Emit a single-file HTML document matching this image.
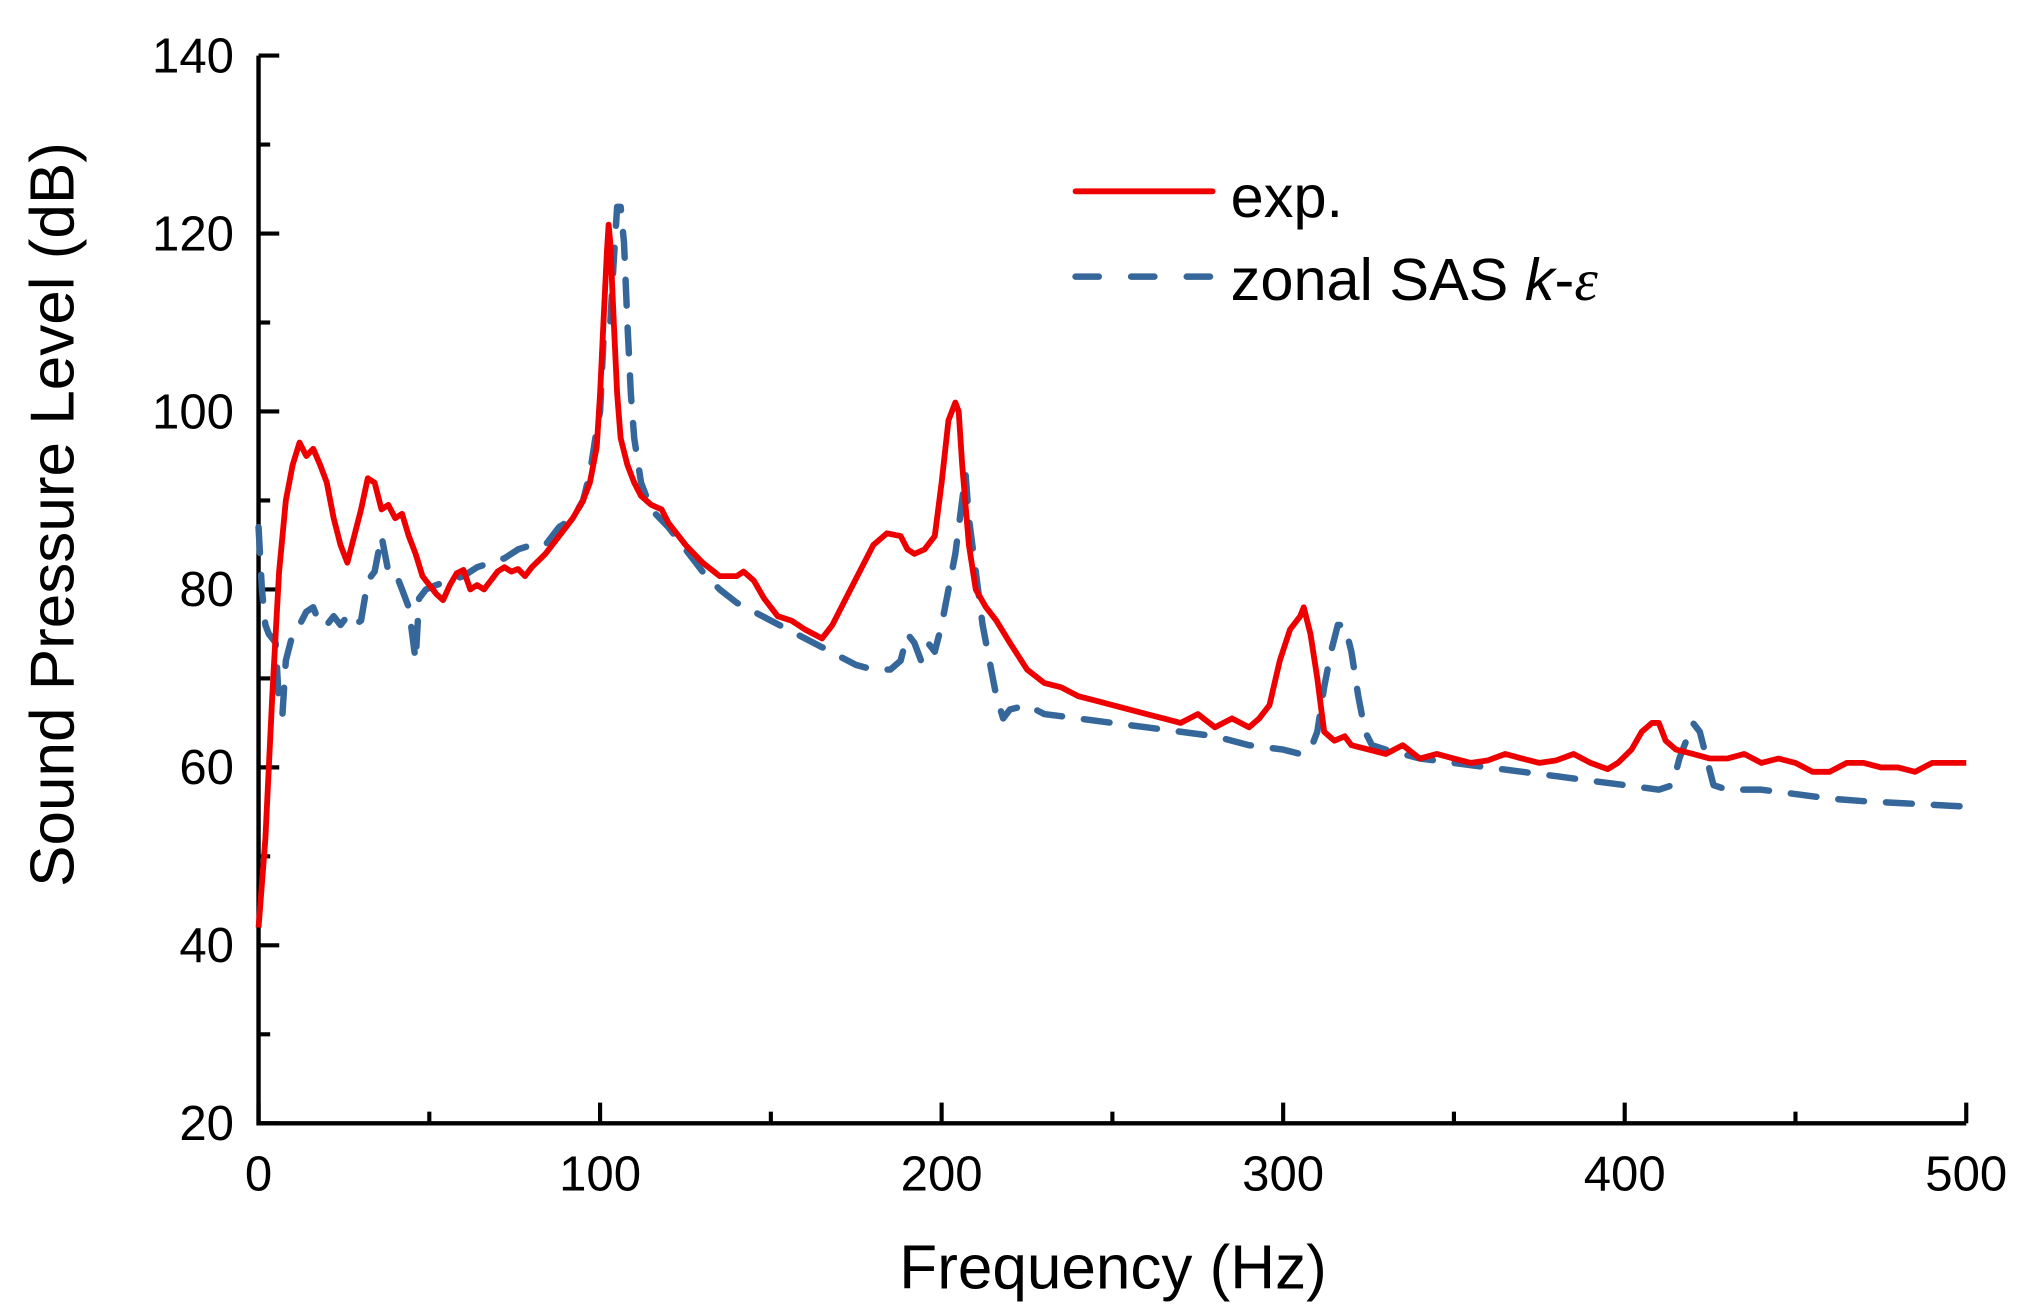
<!DOCTYPE html>
<html><head><meta charset="utf-8"><style>
html,body{margin:0;padding:0;background:#fff;}
svg{display:block;}
text{font-family:"Liberation Sans",Arial,sans-serif;fill:#000;}
</style></head><body>
<svg id="chart" width="2027" height="1312" viewBox="0 0 1568 1015" preserveAspectRatio="none" xmlns="http://www.w3.org/2000/svg">
<g id="axes"></g>
<g id="series"></g>
<text x="861" y="997" font-size="48" text-anchor="middle">Frequency (Hz)</text>
<text transform="translate(57,398) rotate(-90)" font-size="48" text-anchor="middle">Sound Pressure Level (dB)</text>
<g>
<line x1="832" y1="148" x2="938" y2="148" stroke="#ee0000" stroke-width="4.5" stroke-linecap="round"/>
<text x="952" y="168" font-size="46">exp.</text>
<line x1="832" y1="214" x2="938" y2="214" stroke="#36679a" stroke-width="5" stroke-linecap="round" stroke-dasharray="18 25"/>
<text x="952" y="232" font-size="46">zonal SAS <tspan font-style="italic">k</tspan>-<tspan font-family="Liberation Serif" font-style="italic">ε</tspan></text>
</g>
</svg>
<script>
const expFreq=[0,2,4,6,8,10,12,14,16,18,20,22,24,26,28,30,32,34,36,38,40,42,44,46,48,50,52,54,56,58,60,62,64,66,68,70,72,74,76,78,80,84,88,92,95,97,99,100,101,102,102.5,103,104,105,106,108,110,112,115,118,120,125,130,135,140,142,145,148,152,156,160,165,168,172,176,180,184,188,190,192,195,198,200,202,204,205,206,208,210,213,216,220,225,230,235,240,245,250,255,260,265,270,275,280,285,290,293,296,299,302,305,306,308,310,312,315,318,320,325,330,335,340,345,350,355,360,365,370,375,380,385,390,395,398,402,405,408,410,412,415,420,425,430,435,440,445,450,455,460,465,470,475,480,485,490,495,500];
const expDb=[42,52,68,82,90,94,96.5,95,95.8,94,92,88,85,83,86,89,92.5,92,89,89.5,88,88.5,86,84,81.5,80.5,79.5,78.8,80.5,81.8,82.2,80,80.5,80,81,82,82.5,82,82.3,81.5,82.5,84,86,88,90,92,96,102,110,118,121,119,110,102,97,94,92,90.5,89.5,89,87.5,85,83,81.5,81.5,82,81,79,77,76.5,75.5,74.5,76,79,82,85,86.3,86,84.5,84,84.5,86,92,99,101,100,94,85,80,78,76.5,74,71,69.5,69,68,67.5,67,66.5,66,65.5,65,66,64.5,65.5,64.5,65.5,67,72,75.5,77,78,75,70,64,63,63.5,62.5,62,61.5,62.5,61,61.5,61,60.5,60.8,61.5,61,60.5,60.8,61.5,60.5,59.8,60.5,62,64,65,65,63,62,61.5,61,61,61.5,60.5,61,60.5,59.5,59.5,60.5,60.5,60,60,59.5,60.5,60.5,60.5];
const simFreq=[0,1,2,3,5,6,7,8,10,12,14,16,18,20,22,24,26,28,30,32,34,36,38,40,42,44,46,47,49,52,56,60,64,68,72,76,80,84,88,92,95,97,99,100,101,103,104,105,106,107,108,109,110,112,115,120,125,130,135,140,145,150,155,160,165,170,175,180,185,188,190,192,194,196,198,200,202,204,206,207,208,210,212,214,216,218,220,225,230,240,250,260,270,280,290,300,305,308,310,312,314,316,318,320,322,324,326,330,340,350,360,370,380,390,400,410,414,416,418,420,422,424,426,430,440,450,460,470,480,490,500];
const simDb=[87,80,76,75,74,67,66,72,75,76,77.5,78,76,76,77,76,77,76,76.5,81,82,86,82,82,80,78,72,79,80,80.5,81,81.5,82.5,83,83.5,84.5,85,85,87,88,90,93,98,100,108,110,117,123,123,119,110,102,97,92,89,87,84.5,82,80,78.5,77.5,76.5,75.5,74.5,73.5,72.5,71.5,71,71,72,75,74,72,74,73,76,80,84,90,93,88,82,76,72,68,65.5,66.5,67,66,65.5,65,64.5,64,63.5,62.5,62,61.5,62,64,69,73,76,76,73,68,64,62.5,62,61,60.5,60,59.5,59,58.5,58,57.5,58,61,63,65,64,61,58,57.5,57.5,57,56.5,56.2,56,55.8,55.6];
const xTicks=[0,100,200,300,400,500];
const yTicks=[20,40,60,80,100,120,140];
const NS="http://www.w3.org/2000/svg";
const X0=200,X1=1521,Y0=869,Y1=43;
function sx(f){return X0+(f/500)*(X1-X0);}
function sy(v){return Y0-((v-20)/120)*(Y0-Y1);}
function mk(tag,attrs,parent){const e=document.createElementNS(NS,tag);for(const k in attrs)e.setAttribute(k,attrs[k]);parent.appendChild(e);return e;}
const axes=document.getElementById('axes');
const series=document.getElementById('series');
const ax=mk('path',{d:`M${X0},${Y1} V${Y0} H${X1}`,fill:'none',stroke:'#000','stroke-width':3.4},axes);


for(let v=20;v<=140;v+=10){
 const major=(v%20===0);
 const t=mk('line',{x1:X0,x2:X0+(major?16:9),y1:sy(v),y2:sy(v),stroke:'#000','stroke-width':3.2},axes);
 
 
}
yTicks.forEach(v=>{
 const t=mk('text',{x:181,y:sy(v)+13,'font-size':38,'text-anchor':'end'},axes);
 t.textContent=String(v);
 
 
});
for(let f=0;f<=500;f+=50){
 const major=(f%100===0);
 const t=mk('line',{x1:sx(f),x2:sx(f),y1:Y0,y2:Y0-(major?16:9),stroke:'#000','stroke-width':3.2},axes);
 
 
}
xTicks.forEach(f=>{
 const t=mk('text',{x:sx(f),y:921,'font-size':38,'text-anchor':'middle'},axes);
 t.textContent=String(f);
 
 
});
function path(fr,db){return fr.map((f,i)=>(i?'L':'M')+sx(f).toFixed(1)+','+sy(db[i]).toFixed(1)).join(' ');}
const ps=mk('path',{d:path(simFreq,simDb),fill:'none',stroke:'#36679a','stroke-width':5,'stroke-linecap':'round','stroke-linejoin':'round','stroke-dasharray':'20 17'},series);


const pe=mk('path',{d:path(expFreq,expDb),fill:'none',stroke:'#ee0000','stroke-width':4.5,'stroke-linejoin':'round'},series);


</script>
</body></html>
